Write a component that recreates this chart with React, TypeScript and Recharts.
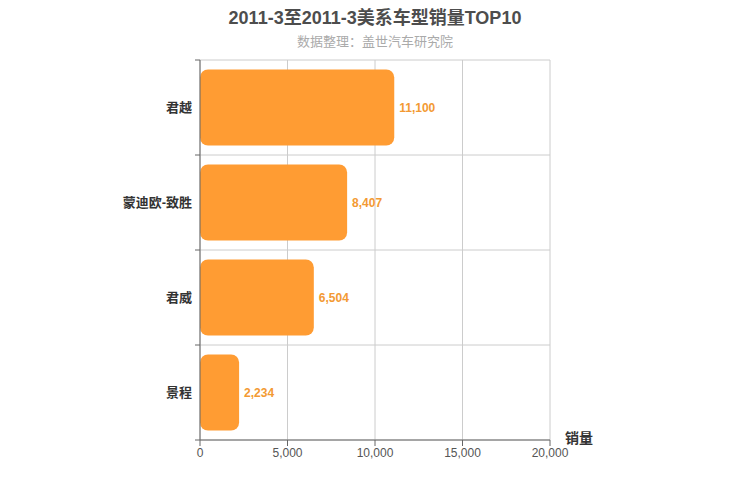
import { BarChart, Bar, XAxis, YAxis, CartesianGrid, LabelList } from "recharts";

const models = ["君越", "蒙迪欧-致胜", "君威", "景程"];
const sales = [11100, 8407, 6504, 2234];
const xTicks = [0, 5000, 10000, 15000, 20000];

const data = models.map((name, i) => ({ name, sales: sales[i] }));
const fmt = (v: number) => Number(v).toLocaleString("en-US");
const font = "'Liberation Sans', Arial, 'Noto Sans CJK SC', sans-serif";
const MARGIN = 8;

// category label plus a tick mark on each band boundary
function CatTick(props: any) {
  const { x, y, payload, index, visibleTicksCount } = props;
  const ax = x + MARGIN;
  const half = payload.offset || 0;
  return (
    <g>
      <line x1={ax - 5} x2={ax} y1={y - half} y2={y - half} stroke="#666" />
      {index === visibleTicksCount - 1 && (
        <line x1={ax - 5} x2={ax} y1={y + half} y2={y + half} stroke="#666" />
      )}
      <text x={x} y={y} dy="0.355em" textAnchor="end" fontSize={13} fontWeight="bold" fill="#333">
        {payload.value}
      </text>
    </g>
  );
}

export default function App() {
  return (
    <div style={{ position: "absolute", left: 0, top: 0, width: 750, height: 500, fontFamily: font }}>
      <div style={{ position: "absolute", top: 3, width: 750, textAlign: "center", fontSize: 18, fontWeight: "bold", color: "#4d4d4d" }}>
        2011-3至2011-3美系车型销量TOP10
      </div>
      <div style={{ position: "absolute", top: 31, width: 750, textAlign: "center", fontSize: 13, color: "#aaa" }}>
        数据整理：盖世汽车研究院
      </div>
      <BarChart
        width={750}
        height={500}
        data={data}
        layout="vertical"
        margin={{ top: 60, right: 200, bottom: 30, left: 100 }}
        barCategoryGap="10%"
      >
        <CartesianGrid
          stroke="#ccc"
          horizontalCoordinatesGenerator={({ offset }: any) =>
            models.concat([""]).map((_, i) => offset.top + (offset.height * i) / models.length)
          }
        />
        <XAxis
          type="number"
          domain={[0, 20000]}
          ticks={xTicks}
          tickFormatter={fmt}
          tick={{ fontSize: 12, fill: "#555" }}
          axisLine={{ stroke: "#666" }}
          tickLine={{ stroke: "#666" }}
          height={30}
          label={{ value: "销量", position: "right", dx: 10, dy: -17, fontSize: 14, fontWeight: "bold", fill: "#333" }}
        />
        <YAxis
          type="category"
          dataKey="name"
          width={100}
          axisLine={{ stroke: "#666" }}
          tickLine={false}
          tickSize={0}
          tickMargin={MARGIN}
          tick={<CatTick />}
        />
        <Bar dataKey="sales" fill="#ff9c33" radius={8} isAnimationActive={false}>
          <LabelList dataKey="sales" position="right" formatter={fmt} fill="#f39a33" fontSize={12} fontWeight="bold" />
        </Bar>
      </BarChart>
    </div>
  );
}
